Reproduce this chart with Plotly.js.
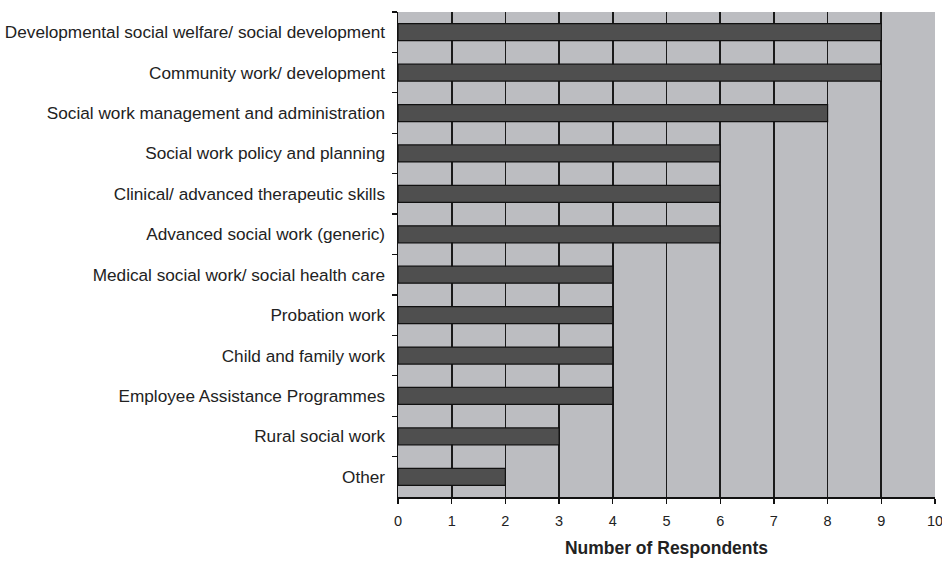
<!DOCTYPE html>
<html>
<head>
<meta charset="utf-8">
<script src="https://cdn.plot.ly/plotly-3.0.1.min.js"></script>
<style>html,body{margin:0;padding:0;background:#fff;}#chart{width:942px;height:567px;}</style>
</head>
<body>
<div id="chart"></div>
<script>
var categories = [
  "Developmental social welfare/ social development",
  "Community work/ development",
  "Social work management and administration",
  "Social work policy and planning",
  "Clinical/ advanced therapeutic skills",
  "Advanced social work (generic)",
  "Medical social work/ social health care",
  "Probation work",
  "Child and family work",
  "Employee Assistance Programmes",
  "Rural social work",
  "Other"
];
var respondents = [9, 9, 8, 6, 6, 6, 4, 4, 4, 4, 3, 2];
var xTicks = [0, 1, 2, 3, 4, 5, 6, 7, 8, 9, 10];

var trace = {
  type: "bar",
  orientation: "h",
  y: categories,
  x: respondents,
  width: 0.42,
  marker: { color: "#4f4f4f", line: { color: "#111", width: 1.2 } },
  hoverinfo: "x+y"
};

var layout = {
  width: 942, height: 567,
  margin: { l: 398, r: 7, t: 12, b: 70, pad: 0 },
  paper_bgcolor: "#ffffff",
  plot_bgcolor: "#bcbdc1",
  showlegend: false,
  font: { family: "Liberation Sans, Arial, sans-serif", color: "#222" },
  xaxis: {
    range: [0, 10],
    tickvals: xTicks,
    ticktext: xTicks.map(String),
    ticklabeloverflow: "allow",
    showgrid: true, gridcolor: "#1a1a1a", gridwidth: 1.8,
    zeroline: false,
    showline: true, linecolor: "#111", linewidth: 1.5,
    ticks: "outside", ticklen: 5, tickcolor: "#111", tickwidth: 1.2,
    tickfont: { size: 14.5, color: "#222" },
    ticklabelstandoff: 5,
    title: { text: "<b>Number of Respondents</b>", font: { size: 17.5, color: "#222" }, standoff: 14 },
    fixedrange: true
  },
  yaxis: {
    type: "category",
    autorange: "reversed",
    tickson: "boundaries",
    showgrid: false,
    zeroline: false,
    showline: true, linecolor: "#111", linewidth: 1.5,
    ticks: "outside", ticklen: 5, tickcolor: "#111", tickwidth: 1.2,
    tickfont: { size: 17.2, color: "#222" },
    ticklabelstandoff: 8,
    fixedrange: true
  }
};

Plotly.newPlot("chart", [trace], layout, { displayModeBar: false, staticPlot: true });
</script>
</body>
</html>
